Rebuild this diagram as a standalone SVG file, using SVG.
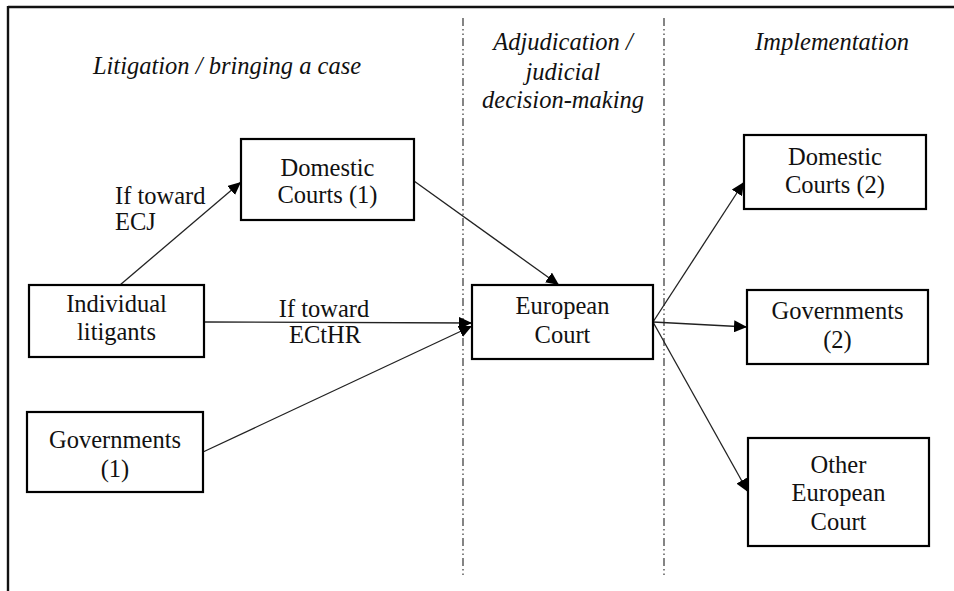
<svg xmlns="http://www.w3.org/2000/svg" width="954" height="591" viewBox="0 0 954 591">
  <style>
    .frame { stroke: #111; stroke-width: 2.4; fill: none; }
    .divider { stroke: #444; stroke-width: 1.3; stroke-dasharray: 8 3 1.5 3 1.5 3; fill: none; }
    .box { fill: #fff; stroke: #000; stroke-width: 2.2; }
    .label { font-family: "Liberation Serif", "DejaVu Serif", serif; font-size: 24.5px; fill: #111; }
    .node { text-anchor: middle; }
    .head { font-style: italic; text-anchor: middle; }
    .edge { stroke: #222; stroke-width: 1.3; fill: none; marker-end: url(#arrow); }
  </style>
  <defs>
    <marker id="arrow" markerUnits="userSpaceOnUse" markerWidth="14" markerHeight="12" refX="13" refY="6" orient="auto">
      <path d="M0,0 L13,6 L0,12 Z" fill="#000"/>
    </marker>
  </defs>

  <rect width="954" height="591" fill="#fff"/>

  <!-- figure frame: top rule and left rule -->
  <line class="frame" x1="8" y1="7" x2="954" y2="7"/>
  <line class="frame" x1="8" y1="6" x2="8" y2="591"/>

  <!-- stage dividers -->
  <line class="divider" x1="463" y1="18" x2="463" y2="578"/>
  <line class="divider" x1="664" y1="18" x2="664" y2="578"/>

  <!-- stage headings -->
  <g id="stage-headings" class="label head">
    <text x="227" y="74">Litigation / bringing a case</text>
    <text x="563" y="50">Adjudication /</text>
    <text x="563" y="80">judicial</text>
    <text x="563" y="108">decision-making</text>
    <text x="832" y="50">Implementation</text>
  </g>

  <!-- connectors -->
  <g id="connectors">
    <line class="edge" x1="120" y1="285" x2="241" y2="182"/>
    <line class="edge" x1="414" y1="181" x2="559" y2="285"/>
    <line class="edge" x1="204" y1="322" x2="472" y2="323"/>
    <line class="edge" x1="203" y1="452" x2="472" y2="326"/>
    <line class="edge" x1="653" y1="322" x2="744" y2="182"/>
    <line class="edge" x1="653" y1="322" x2="747" y2="327"/>
    <line class="edge" x1="653" y1="322" x2="748" y2="492"/>
    <g class="label">
      <text x="115" y="204">If toward</text>
      <text x="115" y="230">ECJ</text>
      <text x="324" y="317" text-anchor="middle">If toward</text>
      <text x="325" y="343" text-anchor="middle">ECtHR</text>
    </g>
  </g>

  <!-- nodes -->
  <g id="domestic-courts-1">
    <rect class="box" x="241" y="139" width="173" height="81"/>
    <text class="label node" x="327.5" y="176">Domestic</text>
    <text class="label node" x="327.5" y="203">Courts (1)</text>
  </g>
  <g id="individual-litigants">
    <rect class="box" x="29" y="285" width="175" height="72"/>
    <text class="label node" x="116.5" y="312">Individual</text>
    <text class="label node" x="116.5" y="340">litigants</text>
  </g>
  <g id="governments-1">
    <rect class="box" x="27" y="412" width="176" height="80"/>
    <text class="label node" x="115" y="448">Governments</text>
    <text class="label node" x="115" y="477">(1)</text>
  </g>
  <g id="european-court">
    <rect class="box" x="472" y="285" width="181" height="74"/>
    <text class="label node" x="562.5" y="314">European</text>
    <text class="label node" x="562.5" y="343">Court</text>
  </g>
  <g id="domestic-courts-2">
    <rect class="box" x="744" y="135" width="182" height="74"/>
    <text class="label node" x="835" y="165">Domestic</text>
    <text class="label node" x="835" y="193">Courts (2)</text>
  </g>
  <g id="governments-2">
    <rect class="box" x="747" y="290" width="181" height="74"/>
    <text class="label node" x="837.5" y="319">Governments</text>
    <text class="label node" x="837.5" y="348">(2)</text>
  </g>
  <g id="other-european-court">
    <rect class="box" x="748" y="438" width="181" height="108"/>
    <text class="label node" x="838.5" y="473">Other</text>
    <text class="label node" x="838.5" y="501">European</text>
    <text class="label node" x="838.5" y="530">Court</text>
  </g>
</svg>
